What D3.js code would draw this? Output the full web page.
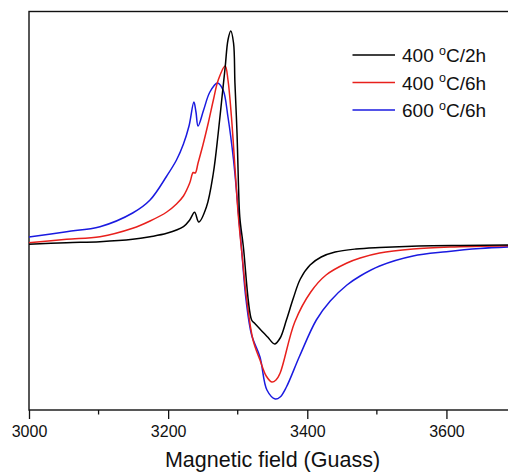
<!DOCTYPE html>
<html>
<head>
<meta charset="utf-8">
<script src="https://cdn.jsdelivr.net/npm/d3@7"></script>
<style>
  body { margin: 0; background: #fff; }
  svg { display: block; font-family: Arial, "Liberation Sans", sans-serif; }
</style>
</head>
<body>
<div id="chart"></div>
<script>
// EPR spectra: field in Gauss, intensity in arbitrary units
var field2h400 = [3000, 3054, 3102, 3149, 3174, 3198, 3222, 3231, 3238, 3244, 3255, 3265, 3272, 3277, 3282, 3286, 3290, 3294, 3296, 3299, 3301, 3303, 3308, 3320, 3324, 3336, 3343, 3353, 3361, 3370, 3380, 3390, 3404, 3420, 3440, 3470, 3504, 3560, 3620, 3700];
var int2h400   = [0.7, 2.3, 3.3, 5.7, 8.3, 11.7, 18.3, 25, 32.7, 23, 38, 72, 112, 145, 178, 205, 214, 202, 162, 112, 62, 28, -1, -75, -78, -87, -92, -99, -93, -75, -53, -34, -20, -12, -7, -4, -2.5, -1, -0.4, 0];

var field6h400 = [3000, 3054, 3102, 3149, 3174, 3198, 3212, 3222, 3231, 3236, 3239, 3243, 3250, 3258, 3265, 3272, 3282, 3286, 3291, 3296, 3301, 3306, 3313, 3322, 3332, 3341, 3349, 3355, 3361, 3382, 3405, 3427, 3457, 3476, 3504, 3552, 3605, 3700];
var int6h400   = [2.3, 5.7, 8.3, 16.7, 24, 33, 41, 49, 62, 72.5, 72, 82, 100, 123, 145, 165, 179, 165, 128, 78, 28, -8, -55, -95, -115, -131, -137, -135, -128, -77, -47, -30, -18, -13, -8, -4, -2, -0.5];

var field6h600 = [3000, 3054, 3102, 3149, 3174, 3198, 3212, 3222, 3230, 3237, 3240, 3243, 3251, 3260, 3271, 3279, 3286, 3294, 3301, 3306, 3312, 3320, 3332, 3342, 3354, 3361, 3370, 3389, 3413, 3433, 3457, 3476, 3504, 3552, 3600, 3648, 3700];
var int6h600   = [8, 13.3, 18.3, 32, 45, 69, 85, 101, 119, 143, 133, 119, 135, 153, 162, 155, 128, 85, 32, -8, -55, -90, -112, -145, -154, -152, -142, -111, -75, -56, -40, -31, -21, -11, -6.7, -3.5, -1.5];

var seriesNames  = ["400 °C/2h", "400 °C/6h", "600 °C/6h"];
var seriesColors = ["#000000", "#e8201c", "#1a1ae0"];
var majorTicks = [3000, 3200, 3400, 3600];
var minorTicks = [3100, 3300, 3500];

var width = 508, height = 472;
var margin = {top: 11.5, left: 29, bottom: 410, right: 516};

var svg = d3.select("#chart").append("svg")
    .attr("width", width)
    .attr("height", height);

var x = d3.scaleLinear().domain([3000, 3700]).range([margin.left, margin.right]);
var y = d3.scaleLinear().domain([-165, 233.5]).range([margin.bottom, margin.top]);

var series = [
  {name: seriesNames[0], color: seriesColors[0], pts: d3.zip(field2h400, int2h400)},
  {name: seriesNames[1], color: seriesColors[1], pts: d3.zip(field6h400, int6h400)},
  {name: seriesNames[2], color: seriesColors[2], pts: d3.zip(field6h600, int6h600)}
];

// frame
svg.append("rect")
    .attr("x", margin.left).attr("y", margin.top)
    .attr("width", margin.right - margin.left)
    .attr("height", margin.bottom - margin.top)
    .attr("fill", "none")
    .attr("stroke", "#111")
    .attr("stroke-width", 1.4);

var line = d3.line()
    .x(d => x(d[0]))
    .y(d => y(d[1]))
    .curve(d3.curveCatmullRom.alpha(0.5));

// draw 600 first so black sits on top like the original
svg.append("g")
  .selectAll("path")
  .data(series.slice().reverse())
  .join("path")
    .attr("d", d => line(d.pts))
    .attr("fill", "none")
    .attr("stroke", d => d.color)
    .attr("stroke-width", 1.5);

// x axis: major + minor ticks
var xAxis = svg.append("g")
    .attr("transform", `translate(0,${margin.bottom})`)
    .call(d3.axisBottom(x).tickValues(majorTicks).tickSize(9).tickPadding(6.6).tickFormat(d3.format("d")));
xAxis.select(".domain").remove();
xAxis.selectAll("line").attr("stroke", "#111").attr("stroke-width", 1.3);
xAxis.selectAll("text").attr("font-size", 16).attr("fill", "#111")
    .attr("font-family", "Arial, 'Liberation Sans', sans-serif");

svg.append("g")
    .attr("transform", `translate(0,${margin.bottom})`)
  .selectAll("line")
  .data(minorTicks)
  .join("line")
    .attr("x1", d => x(d)).attr("x2", d => x(d))
    .attr("y1", 0).attr("y2", 4.5)
    .attr("stroke", "#111").attr("stroke-width", 1.3);

svg.append("text")
    .attr("x", (margin.left + margin.right) / 2)
    .attr("y", 467)
    .attr("text-anchor", "middle")
    .attr("font-size", 21.5)
    .attr("fill", "#111")
    .text("Magnetic field (Guass)");

// legend
var legend = svg.append("g")
  .selectAll("g")
  .data(series)
  .join("g")
    .attr("transform", (d, i) => `translate(0,${55 + i * 27.5})`);

legend.append("line")
    .attr("x1", 352.5).attr("x2", 395)
    .attr("stroke", d => d.color)
    .attr("stroke-width", 1.5);

legend.append("text")
    .attr("x", 402)
    .attr("y", 7.3)
    .attr("font-size", 19)
    .attr("fill", "#111")
    .each(function(d) {
      var parts = d.name.split(" °");
      var t = d3.select(this);
      t.append("tspan").text(parts[0] + " ");
      t.append("tspan").attr("font-size", 12.5).attr("dy", -7.5).text("o");
      t.append("tspan").attr("dy", 7.5).text("C" + parts[1].slice(1));
    });
</script>
</body>
</html>
